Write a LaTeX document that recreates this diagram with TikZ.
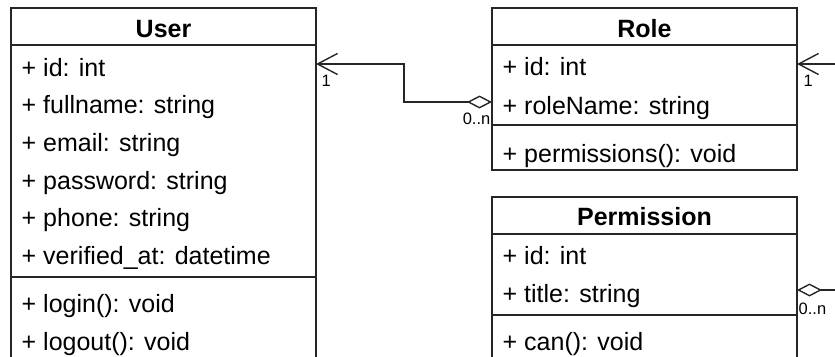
\documentclass[tikz,border=0pt]{standalone}
\usepackage{fontspec}
\setmainfont{Liberation Sans}
\usetikzlibrary{arrows.meta}
\begin{document}
\begin{tikzpicture}[x=1pt,y=-1pt,
  line width=1.4pt, draw=black!85,
  classbox/.style={draw=black!85, line width=1.4pt, rectangle, inner sep=0pt, outer sep=0pt},
  sepline/.style={draw=black!85, line width=1.4pt},
  row/.style={anchor=base west, inner sep=0pt, font=\fontsize{25}{30}\selectfont},
  ttl/.style={anchor=base, inner sep=0pt, font=\fontsize{25}{30}\selectfont\bfseries},
  mult/.style={inner sep=0pt, font=\fontsize{16.5}{18}\selectfont},
  conn/.style={draw=black!85, line width=1.4pt},
  openarrow/.style={-{Straight Barb[length=20pt,width=21pt,line width=1.4pt]}},
  aggr/.style={{Diamond[open,fill=white,length=25pt,width=13pt,line width=1.4pt]}-},
  aggrarrow/.style={{Diamond[open,fill=white,length=25pt,width=13pt,line width=1.4pt]}-{Straight Barb[length=20pt,width=21pt,line width=1.4pt]}}
]
\useasboundingbox (0,0) rectangle (835,356);
\clip (0,0) rectangle (835,356);
% ---- boxes
\draw[classbox] (11,8) rectangle (316,390);
\draw[classbox] (492,8) rectangle (797,170);
\draw[classbox] (492,197) rectangle (797,390);
% separators
\coordinate (u1a) at (11,45);  \coordinate (u1b) at (316,45);
\coordinate (u2a) at (11,277); \coordinate (u2b) at (316,277);
\coordinate (r1a) at (492,45); \coordinate (r1b) at (797,45);
\coordinate (r2a) at (492,125); \coordinate (r2b) at (797,125);
\coordinate (p1a) at (492,234); \coordinate (p1b) at (797,234);
\coordinate (p2a) at (492,315); \coordinate (p2b) at (797,315);
\draw[sepline] (u1a) -- (u1b);
\draw[sepline] (u2a) -- (u2b);
\draw[sepline] (r1a) -- (r1b);
\draw[sepline] (r2a) -- (r2b);
\draw[sepline] (p1a) -- (p1b);
\draw[sepline] (p2a) -- (p2b);
% ---- User
\node[ttl] (userT) at (163.5,37.5) {User};
\node[row] (u1) at (21,76) {+ id: int};
\node[row] (u2) at (21,113) {+ fullname: string};
\node[row] (u3) at (21,151) {+ email: string};
\node[row] (u4) at (21,189) {+ password: string};
\node[row] (u5) at (21,226) {+ phone: string};
\node[row] (u6) at (21,264) {+ verified\_at: datetime};
\node[row] (u7) at (21,312) {+ login(): void};
\node[row] (u8) at (21,350) {+ logout(): void};
% ---- Role
\node[ttl] (roleT) at (644.5,37.5) {Role};
\node[row] (r1) at (502,75) {+ id: int};
\node[row] (r2) at (502,114) {+ roleName: string};
\node[row] (r3) at (502,162) {+ permissions(): void};
% ---- Permission
\node[ttl] (permT) at (644.5,225) {Permission};
\node[row] (p1) at (502,264) {+ id: int};
\node[row] (p2) at (502,302) {+ title: string};
\node[row] (p3) at (502,350) {+ can(): void};
% ---- connectors
\coordinate (userR) at (316,64);
\coordinate (roleL) at (492,102);
\coordinate (roleR) at (797,64);
\coordinate (offR1) at (840,64);
\coordinate (permR) at (797,290);
\coordinate (offR2) at (840,290);
\draw[conn,aggrarrow] (roleL) -- (404,102) -- (404,64) -- (userR);
\draw[conn,openarrow] (offR1) -- (roleR);
\draw[conn,aggr] (permR) -- (offR2);
% multiplicities
\node[mult, anchor=north west] (m1) at (321,74) {1};
\node[mult, anchor=north east] (m2) at (491,112) {0..n};
\node[mult, anchor=north west] (m3) at (803,74) {1};
\node[mult, anchor=north west] (m4) at (798,302) {0..n};
\end{tikzpicture}
\end{document}
